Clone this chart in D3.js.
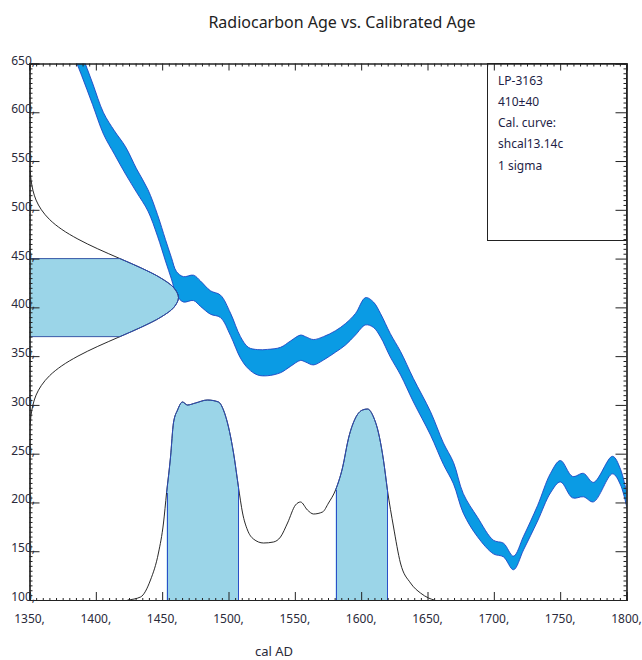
<!DOCTYPE html>
<html>
<head>
<meta charset="utf-8">
<script src="https://cdnjs.cloudflare.com/ajax/libs/d3/7.8.5/d3.min.js"></script>
<style>
  html, body { margin: 0; padding: 0; background: #ffffff; }
  svg { display: block; }
  text { font-family: "Noto Sans", "Open Sans", sans-serif; }
</style>
</head>
<body>
<svg id="chart" width="642" height="660"></svg>
<script>
// ---------- DATA ----------
const titleText = "Radiocarbon Age vs. Calibrated Age";
const xAxisTitle = "cal AD";
const xTicks = [1350, 1400, 1450, 1500, 1550, 1600, 1650, 1700, 1750, 1800];
const yTicks = [100, 150, 200, 250, 300, 350, 400, 450, 500, 550, 600, 650];
const legendLines = ["LP-3163", "410\u00b140", "Cal. curve:", "shcal13.14c", "1 sigma"];

// calibration curve (shcal13): cal AD year, radiocarbon age mid, half-width
const calYear = [1380, 1389.2, 1397.5, 1405.8, 1414, 1422.4, 1430.7, 1439.3, 1446.5, 1452.5,
  1457, 1460.8, 1466, 1473.6, 1478.9, 1486.4, 1494, 1501.5, 1509, 1515,
  1521.9, 1529.4, 1539.2, 1546.7, 1554.3, 1558, 1564, 1571.6, 1580.6, 1588.2,
  1595.7, 1603.3, 1609.3, 1614.6, 1622, 1629.7, 1639.4, 1652.3, 1662, 1669.6,
  1677, 1687.7, 1699.7, 1707.3, 1714.8, 1722.4, 1733, 1742.7, 1750.2, 1759.3,
  1767.6, 1775.1, 1789.4, 1795.5, 1802];
const calMid = [680, 649, 619, 588.5, 569, 550.6, 530, 509.7, 484, 458.5,
  440, 424.7, 418.5, 420, 414, 405, 401, 382.6, 359, 348,
  343.7, 343.4, 346, 352.5, 358.6, 357, 354, 358, 365, 372.4,
  382.7, 396, 392.4, 381.6, 361, 342.7, 315, 281, 250, 230,
  199, 174.8, 154.3, 151.2, 138, 158.4, 189, 219.8, 232, 215.7,
  217.8, 210.6, 238.3, 226, 190];
const calHalf = [11, 11, 11, 11, 12, 14, 12, 11, 11, 11,
  11, 12, 13, 13, 13, 12, 11.5, 11.5, 11, 11,
  13, 13.5, 13, 13, 13, 13, 13, 12, 11, 11,
  11, 14, 13, 12, 12, 12, 12, 12, 11, 11,
  10, 10, 7, 7, 7, 7, 8, 10, 11, 11,
  12, 10, 9, 8, 7];

// radiocarbon measurement distribution (410 +/- 40): age, relative density
const c14Age = [280, 290, 300, 310, 320, 330, 340, 350, 360, 370, 380, 390, 400, 410,
  420, 430, 440, 450, 460, 470, 480, 490, 500, 510, 520, 530, 540];
const c14Dens = [0.005, 0.011, 0.023, 0.044, 0.080, 0.135, 0.216, 0.325, 0.458, 0.607, 0.755, 0.882, 0.969, 1.0,
  0.969, 0.882, 0.755, 0.607, 0.458, 0.325, 0.216, 0.135, 0.080, 0.044, 0.023, 0.011, 0.005];
const c14Sigma = [370, 450];

// calibrated probability distribution: cal AD year, relative probability
const probYear = [1423.9, 1433.7, 1441.2, 1447.2, 1451, 1453.3, 1456.3, 1458.5, 1461.6, 1465.3,
  1469.1, 1475.1, 1484.2, 1492.5, 1496.2, 1500, 1503.8, 1507.5, 1510.6, 1514.3,
  1518.8, 1526.4, 1533.9, 1539.2, 1544.5, 1550.5, 1554.3, 1559.5, 1564.1, 1570.9,
  1575.4, 1580.7, 1585.9, 1590.5, 1595.7, 1601, 1604.8, 1609.3, 1613.1, 1616.8,
  1619.8, 1624.4, 1629.6, 1637.2, 1644.7, 1650.8, 1655];
const probVal = [0, 0.015, 0.1, 0.235, 0.385, 0.535, 0.715, 0.885, 0.95, 0.99,
  0.975, 0.985, 1.0, 0.99, 0.95, 0.865, 0.735, 0.565, 0.435, 0.35,
  0.305, 0.285, 0.29, 0.315, 0.385, 0.475, 0.49, 0.45, 0.43, 0.44,
  0.485, 0.55, 0.66, 0.81, 0.91, 0.95, 0.955, 0.915, 0.835, 0.7,
  0.55, 0.365, 0.185, 0.085, 0.035, 0.01, 0];
const sigmaRanges = [[1453.3, 1507.5], [1580.7, 1619.8]];

// ---------- LAYOUT ----------
const svg = d3.select("#chart");
const L = 29.5, R = 626.5, T = 63.5, B = 600;
const x = d3.scaleLinear().domain([1350, 1800]).range([L, R]);
const y = d3.scaleLinear().domain([100, 650]).range([B, T]);
const gx = d3.scaleLinear().domain([0, 1]).range([L, L + 149]);
const py = d3.scaleLinear().domain([0, 1]).range([B, B - 200]);

const textCol = "#2a2a3a";
const bandFill = "#0a9be4", bandEdge = "#1f46c4";
const shadeFill = "#9bd5e8", shadeEdge = "#2b4fc8";

svg.append("defs").append("clipPath").attr("id", "plotclip")
  .append("rect").attr("x", L).attr("y", T).attr("width", R - L).attr("height", B - T);

const plot = svg.append("g").attr("clip-path", "url(#plotclip)");

// calibration band
const cal = calYear.map((d, i) => ({ yr: d, hi: calMid[i] + calHalf[i], lo: calMid[i] - calHalf[i] }));
plot.append("path").datum(cal)
  .attr("d", d3.area().x(d => x(d.yr)).y0(d => y(d.lo)).y1(d => y(d.hi)).curve(d3.curveCatmullRom))
  .attr("fill", bandFill).attr("stroke", bandEdge).attr("stroke-width", 0.9);

// radiocarbon distribution on the y-axis
const c14 = c14Age.map((a, i) => ({ a: a, d: c14Dens[i] }));
const c14In = c14.filter(d => d.a >= c14Sigma[0] && d.a <= c14Sigma[1]);
plot.append("path").datum(c14In)
  .attr("d", d3.area().y(d => y(d.a)).x0(gx(0)).x1(d => gx(d.d)).curve(d3.curveCatmullRom))
  .attr("fill", shadeFill).attr("stroke", "none");
plot.append("path").datum(c14)
  .attr("d", d3.line().y(d => y(d.a)).x(d => gx(d.d)).curve(d3.curveCatmullRom))
  .attr("fill", "none").attr("stroke", "#111").attr("stroke-width", 0.9);
plot.append("path").datum(c14In)
  .attr("d", d3.line().y(d => y(d.a)).x(d => gx(d.d)).curve(d3.curveCatmullRom))
  .attr("fill", "none").attr("stroke", shadeEdge).attr("stroke-width", 0.9);
c14Sigma.forEach(a => {
  const d = c14.find(e => e.a === a);
  plot.append("line").attr("x1", gx(0)).attr("x2", gx(d.d)).attr("y1", y(a)).attr("y2", y(a))
    .attr("stroke", "#3a5aa8").attr("stroke-width", 1);
});

// calibrated probability
const prob = probYear.map((yr, i) => ({ yr: yr, p: probVal[i] }));
sigmaRanges.forEach(r => {
  const seg = prob.filter(d => d.yr >= r[0] && d.yr <= r[1]);
  plot.append("path").datum(seg)
    .attr("d", d3.area().x(d => x(d.yr)).y0(py(0)).y1(d => py(d.p)).curve(d3.curveMonotoneX))
    .attr("fill", shadeFill).attr("stroke", "none");
});
plot.append("path").datum(prob)
  .attr("d", d3.line().x(d => x(d.yr)).y(d => py(d.p)).curve(d3.curveMonotoneX))
  .attr("fill", "none").attr("stroke", "#111").attr("stroke-width", 0.9);
sigmaRanges.forEach(r => {
  const seg = prob.filter(d => d.yr >= r[0] && d.yr <= r[1]);
  plot.append("path").datum(seg)
    .attr("d", d3.line().x(d => x(d.yr)).y(d => py(d.p)).curve(d3.curveMonotoneX))
    .attr("fill", "none").attr("stroke", shadeEdge).attr("stroke-width", 0.9);
  [seg[0], seg[seg.length - 1]].forEach(d => {
    plot.append("line").attr("x1", Math.round(x(d.yr)) + 0.5).attr("x2", Math.round(x(d.yr)) + 0.5)
      .attr("y1", py(0)).attr("y2", py(d.p))
      .attr("stroke", shadeEdge).attr("stroke-width", 1);
  });
});

// ---------- AXES ----------
const axCol = "#222";
const minorX = d3.range(1350, 1801, 5).filter(v => v % 50 !== 0);
const minorY = d3.range(100, 651, 5).filter(v => v % 50 !== 0);

const axBottom = svg.append("g").attr("transform", `translate(0,${B})`);
axBottom.call(d3.axisTop(x).tickValues(xTicks).tickSize(8).tickFormat(""));
axBottom.append("g").call(d3.axisTop(x).tickValues(minorX).tickSize(2).tickFormat(""));
const axTop = svg.append("g").attr("transform", `translate(0,${T})`);
axTop.call(d3.axisBottom(x).tickValues(xTicks).tickSize(7).tickFormat(""));
axTop.append("g").call(d3.axisBottom(x).tickValues(minorX).tickSize(3).tickFormat(""));
const axLeft = svg.append("g").attr("transform", `translate(${L},0)`);
axLeft.call(d3.axisRight(y).tickValues(yTicks).tickSize(10).tickFormat(""));
axLeft.append("g").call(d3.axisRight(y).tickValues(minorY).tickSize(3).tickFormat(""));
const axRight = svg.append("g").attr("transform", `translate(${R},0)`);
axRight.call(d3.axisLeft(y).tickValues(yTicks).tickSize(11).tickFormat(""));
axRight.append("g").call(d3.axisLeft(y).tickValues(minorY).tickSize(3).tickFormat(""));

svg.selectAll(".domain").attr("stroke", axCol).attr("stroke-width", 1.2);
svg.selectAll(".tick line").attr("stroke", axCol).attr("stroke-width", 1);

// tick labels
svg.append("g").selectAll("text").data(xTicks).join("text")
  .attr("x", d => x(d)).attr("y", 623)
  .attr("text-anchor", "middle").attr("font-size", 12).attr("fill", textCol)
  .text(d => d + ",");
svg.append("g").selectAll("text").data(yTicks).join("text")
  .attr("x", 35).attr("y", d => y(d) + 1)
  .attr("text-anchor", "end").attr("font-size", 12).attr("fill", textCol)
  .text(d => d + ",");

// titles
svg.append("text").attr("x", 342).attr("y", 28).attr("text-anchor", "middle")
  .attr("font-size", 16).attr("fill", "#222").text(titleText);
svg.append("text").attr("x", 274).attr("y", 656).attr("text-anchor", "middle")
  .attr("font-size", 13).attr("fill", textCol).text(xAxisTitle);

// legend box
svg.append("rect").attr("x", 487.5).attr("y", T).attr("width", R - 487.5).attr("height", 240.5 - T)
  .attr("fill", "none").attr("stroke", "#222").attr("stroke-width", 1);
svg.append("g").selectAll("text").data(legendLines).join("text")
  .attr("x", 498).attr("y", (d, i) => 84.5 + i * 21.3)
  .attr("font-size", 12).attr("fill", "#1e1e46")
  .text(d => d);
</script>
</body>
</html>
